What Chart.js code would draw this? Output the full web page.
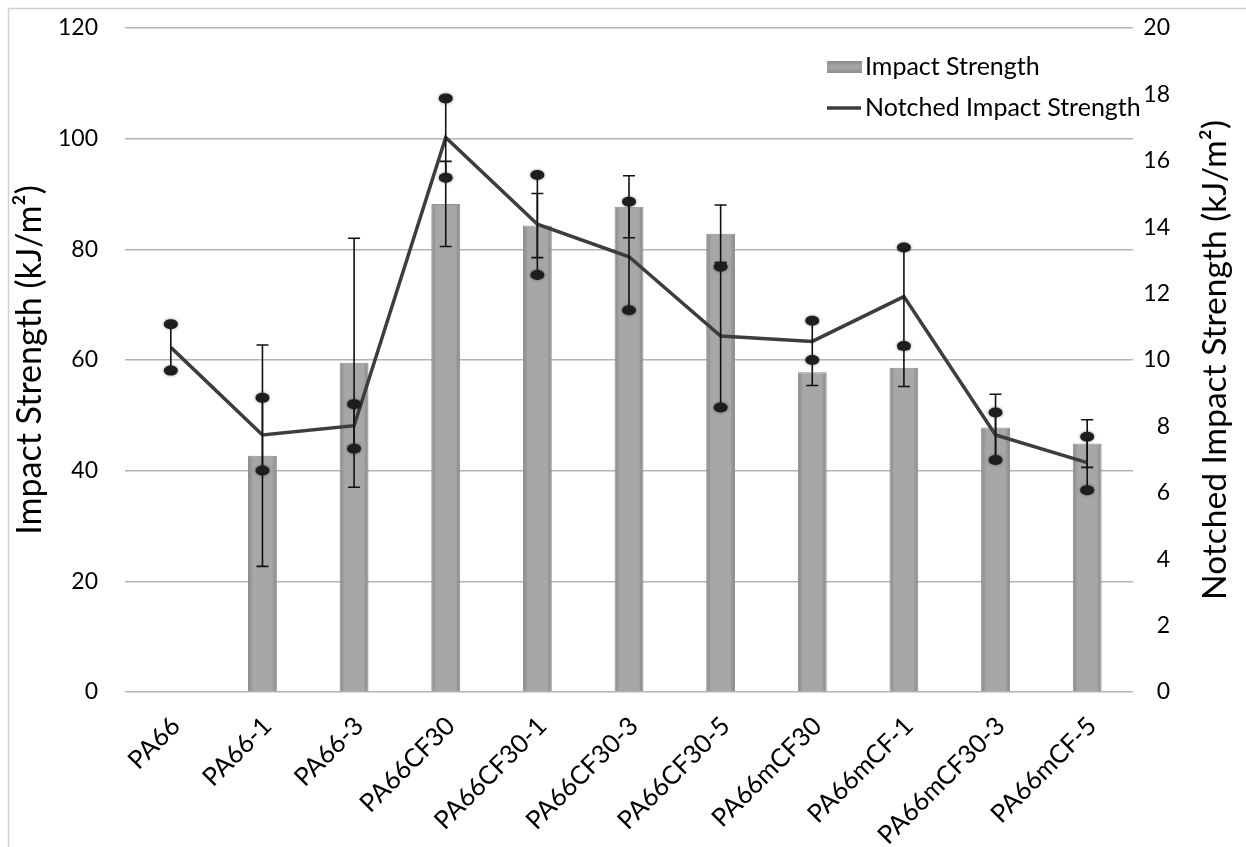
<!DOCTYPE html>
<html>
<head>
<meta charset="utf-8">
<script src="https://cdn.jsdelivr.net/npm/chart.js@4.4.0/dist/chart.umd.min.js"></script>
<style>
  html, body { margin: 0; padding: 0; background: #fff; }
  #wrap { position: relative; width: 1246px; height: 847px; }
</style>
</head>
<body>
<div id="wrap"><canvas id="c" width="1246" height="847"></canvas></div>
<script>
// ---- data ----
const categories = ['PA66','PA66-1','PA66-3','PA66CF30','PA66CF30-1','PA66CF30-3','PA66CF30-5','PA66mCF30','PA66mCF-1','PA66mCF30-3','PA66mCF-5'];
const impactStrength = [null, 42.7, 59.5, 88.2, 84.3, 87.7, 82.8, 57.8, 58.6, 47.8, 44.9];
const impactErr = [null, 20.0, 22.5, 7.7, 5.8, 5.6, 5.2, 2.4, 3.4, 6.0, 4.3];
const notchedStrength = [10.38, 7.74, 8.02, 16.70, 14.09, 13.11, 10.72, 10.56, 11.91, 7.74, 6.91];
const notchedHigh = [11.08, 8.86, 8.67, 17.88, 15.57, 14.77, 12.81, 11.18, 13.39, 8.42, 7.69];
const notchedLow = [9.68, 6.67, 7.33, 15.49, 12.56, 11.50, 8.57, 10.00, 10.42, 6.99, 6.08];
const leftTicks = [0, 20, 40, 60, 80, 100, 120];
const rightTicks = [0, 2, 4, 6, 8, 10, 12, 14, 16, 18, 20];

const FONT = 'Lato, "Open Sans", sans-serif';
const TICK_SIZE = 23;
const XTICK_SIZE = 25.5;
const LEFT_TITLE_SIZE = 34;
const RIGHT_TITLE_SIZE = 33.5;
const LEGEND_SIZE = 25;

function barFill(ctx) {
  const chart = ctx.chart;
  if (!chart.chartArea || ctx.type !== 'data') return '#a6a6a6';
  const x = chart.scales.x.getPixelForValue(ctx.dataIndex);
  const w = 29;
  const g = chart.ctx.createLinearGradient(x - w / 2, 0, x + w / 2, 0);
  g.addColorStop(0, '#858585');
  g.addColorStop(0.18, '#a7a7a7');
  g.addColorStop(0.82, '#a7a7a7');
  g.addColorStop(1, '#858585');
  return g;
}

const decorPlugin = {
  id: 'decor',
  beforeDraw(chart) {
    const c = chart.ctx;
    c.save();
    c.fillStyle = '#fff';
    c.fillRect(0, 0, chart.width, chart.height);
    c.strokeStyle = '#d0d0d0';
    c.lineWidth = 1.5;
    c.strokeRect(8.5, 8.5, 1400, 1000);
    c.restore();
  },
  afterDatasetDraw(chart, args) {
    const c = chart.ctx;
    const x = chart.scales.x, yL = chart.scales.y, yR = chart.scales.y1;
    c.save();
    if (args.index === 0) {
      c.strokeStyle = '#111';
      c.lineWidth = 1.6;
      impactStrength.forEach((v, i) => {
        if (v == null || impactErr[i] == null) return;
        const px = x.getPixelForValue(i);
        const top = yL.getPixelForValue(v + impactErr[i]);
        const bot = yL.getPixelForValue(v - impactErr[i]);
        c.beginPath();
        c.moveTo(px, top); c.lineTo(px, bot);
        c.moveTo(px - 6, top); c.lineTo(px + 6, top);
        c.moveTo(px - 6, bot); c.lineTo(px + 6, bot);
        c.stroke();
      });
    } else if (args.index === 1) {
      notchedStrength.forEach((v, i) => {
        const px = x.getPixelForValue(i);
        const hi = yR.getPixelForValue(notchedHigh[i]);
        const lo = yR.getPixelForValue(notchedLow[i]);
        c.strokeStyle = '#111';
        c.lineWidth = 1.6;
        c.beginPath();
        c.moveTo(px, hi); c.lineTo(px, lo);
        c.stroke();
        [hi, lo].forEach(py => {
          c.save();
          c.shadowColor = 'rgba(0,0,0,0.5)';
          c.shadowBlur = 3;
          c.fillStyle = '#1e1e1e';
          c.beginPath();
          c.ellipse(px, py, 7, 5, 0, 0, Math.PI * 2);
          c.fill();
          c.restore();
        });
      });
    }
    c.restore();
  },
  afterDraw(chart) {
    const c = chart.ctx;
    const area = chart.chartArea;
    c.save();
    c.fillStyle = '#000';
    c.font = RIGHT_TITLE_SIZE + 'px ' + FONT;
    c.textAlign = 'center';
    c.textBaseline = 'middle';
    c.translate(1215, (area.top + area.bottom) / 2);
    c.rotate(-Math.PI / 2);
    c.fillText('Notched Impact Strength (kJ/m\u00B2)', 0, 0);
    c.restore();

    c.save();
    const ds = chart.data.datasets;
    c.font = LEGEND_SIZE + 'px ' + FONT;
    c.textAlign = 'left';
    c.textBaseline = 'middle';
    const g = c.createLinearGradient(0, 61, 0, 73);
    g.addColorStop(0, '#8c8c8c'); g.addColorStop(0.5, '#a8a8a8'); g.addColorStop(1, '#8c8c8c');
    c.fillStyle = g;
    c.fillRect(827, 61, 35, 12);
    c.fillStyle = '#000';
    c.fillText(ds[0].label, 865, 67);
    c.strokeStyle = ds[1].borderColor;
    c.lineWidth = 3.5;
    c.beginPath(); c.moveTo(827, 108); c.lineTo(861, 108); c.stroke();
    c.fillText(ds[1].label, 865, 108);
    c.restore();
  }
};

new Chart(document.getElementById('c'), {
  data: {
    labels: categories,
    datasets: [
      {
        type: 'bar',
        label: 'Impact Strength',
        data: impactStrength,
        yAxisID: 'y',
        backgroundColor: barFill,
        borderColor: '#8e8e8e',
        borderWidth: 1,
        barPercentage: 0.315,
        categoryPercentage: 1,
        order: 1
      },
      {
        type: 'line',
        label: 'Notched Impact Strength',
        data: notchedStrength,
        yAxisID: 'y1',
        borderColor: '#3d3d3d',
        borderWidth: 3.5,
        pointRadius: 0,
        tension: 0,
        fill: false,
        order: 0
      }
    ]
  },
  options: {
    responsive: false,
    devicePixelRatio: 1,
    animation: false,
    layout: { padding: { top: 28, left: 0, right: 76, bottom: 0 } },
    plugins: {
      legend: { display: false },
      tooltip: { enabled: false }
    },
    scales: {
      x: {
        grid: { display: false, drawTicks: false },
        border: { display: false },
        ticks: {
          color: '#000',
          font: { family: FONT, size: XTICK_SIZE },
          maxRotation: 45, minRotation: 45,
          padding: 19,
          labelOffset: 5,
          autoSkip: false
        },
        afterFit(s) { s.height = 847 - 692; s.paddingLeft = 0; s.paddingRight = 0; }
      },
      y: {
        position: 'left',
        min: 0, max: 120,
        afterBuildTicks(s) { s.ticks = leftTicks.map(v => ({ value: v })); },
        grid: { color: '#b4b4b4', lineWidth: 1.5, drawTicks: false },
        border: { display: false },
        ticks: { color: '#000', font: { family: FONT, size: TICK_SIZE }, padding: 27 },
        title: {
          display: true,
          text: 'Impact Strength (kJ/m\u00B2)',
          color: '#000',
          font: { family: FONT, size: LEFT_TITLE_SIZE },
          padding: { top: 10, bottom: 0 }
        },
        afterFit(s) { s.width = 125; s.paddingTop = 0; s.paddingBottom = 0; }
      },
      y1: {
        position: 'right',
        min: 0, max: 20,
        afterBuildTicks(s) { s.ticks = rightTicks.map(v => ({ value: v })); },
        grid: { display: false, drawTicks: false },
        border: { display: false },
        ticks: { color: '#000', font: { family: FONT, size: TICK_SIZE }, padding: 11, crossAlign: 'far' },
        afterFit(s) { s.width = 37; s.paddingTop = 0; s.paddingBottom = 0; }
      }
    }
  },
  plugins: [decorPlugin]
});
</script>
</body>
</html>
